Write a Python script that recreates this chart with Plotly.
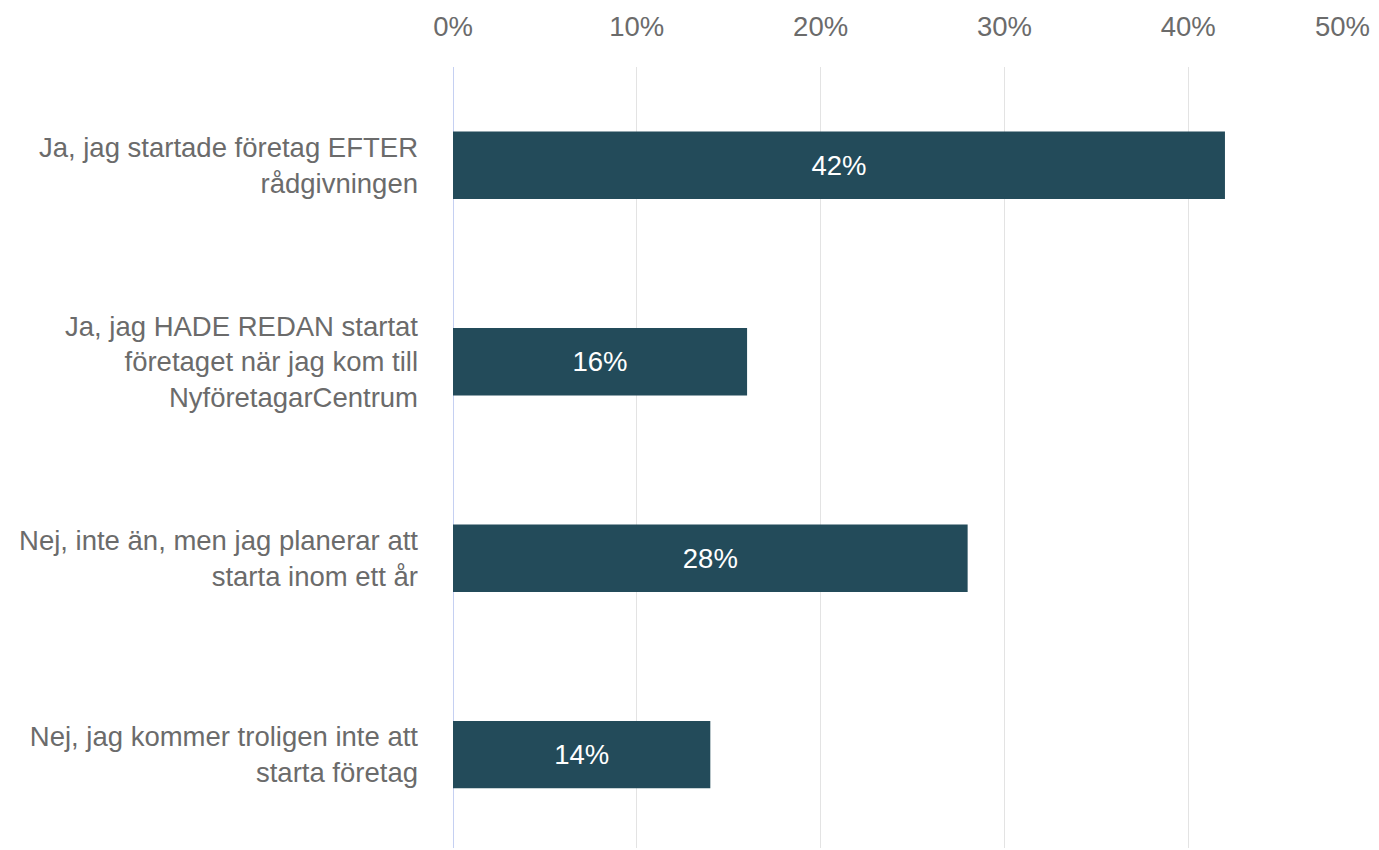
import plotly.graph_objects as go

categories = [
    "Ja, jag startade företag EFTER<br>rådgivningen",
    "Ja, jag HADE REDAN startat<br>företaget när jag kom till<br>NyföretagarCentrum",
    "Nej, inte än, men jag planerar att<br>starta inom ett år",
    "Nej, jag kommer troligen inte att<br>starta företag",
]
values = [42, 16, 28, 14]
value_labels = ["42%", "16%", "28%", "14%"]
x_ticks = [0, 10, 20, 30, 40, 50]
x_tick_labels = ["0%", "10%", "20%", "30%", "40%", ""]

FONT = "Liberation Sans, Arial, sans-serif"
GRAY = "#6b6b6b"
FS = 27.5

fig = go.Figure(
    go.Bar(
        x=values,
        y=list(range(len(categories))),
        orientation="h",
        width=0.343,
        marker=dict(color="#234b5a", line=dict(width=0)),
        text=value_labels,
        textposition="inside",
        insidetextanchor="middle",
        textfont=dict(color="white", size=FS, family=FONT),
        textangle=0,
        hoverinfo="skip",
    )
)

fig.update_layout(
    width=1371,
    height=842,
    margin=dict(l=445, r=7, t=53, b=2),
    paper_bgcolor="white",
    plot_bgcolor="white",
    showlegend=False,
    font=dict(family=FONT, color=GRAY, size=FS),
    xaxis=dict(
        side="top",
        range=[0, 50],
        tickvals=x_ticks,
        ticktext=x_tick_labels,
        showgrid=True,
        gridcolor="#e3e3e3",
        gridwidth=1,
        zeroline=True,
        zerolinecolor="#c5d0f2",
        zerolinewidth=1,
        showline=False,
        ticks="",
        ticklabelstandoff=25,
        tickfont=dict(size=FS, color=GRAY, family=FONT),
        fixedrange=True,
    ),
    yaxis=dict(
        range=[3.475, -0.5],
        tickvals=list(range(len(categories))),
        ticktext=categories,
        showgrid=False,
        zeroline=False,
        showline=False,
        ticks="",
        ticklabelstandoff=34,
        tickfont=dict(size=FS, color=GRAY, family=FONT),
        fixedrange=True,
    ),
)

fig.add_annotation(
    x=50, xref="x", y=1, yref="paper",
    text="50%", showarrow=False,
    xanchor="right", yanchor="bottom", yshift=23,
    font=dict(size=FS, color=GRAY, family=FONT),
)

fig.write_html("out.html")
